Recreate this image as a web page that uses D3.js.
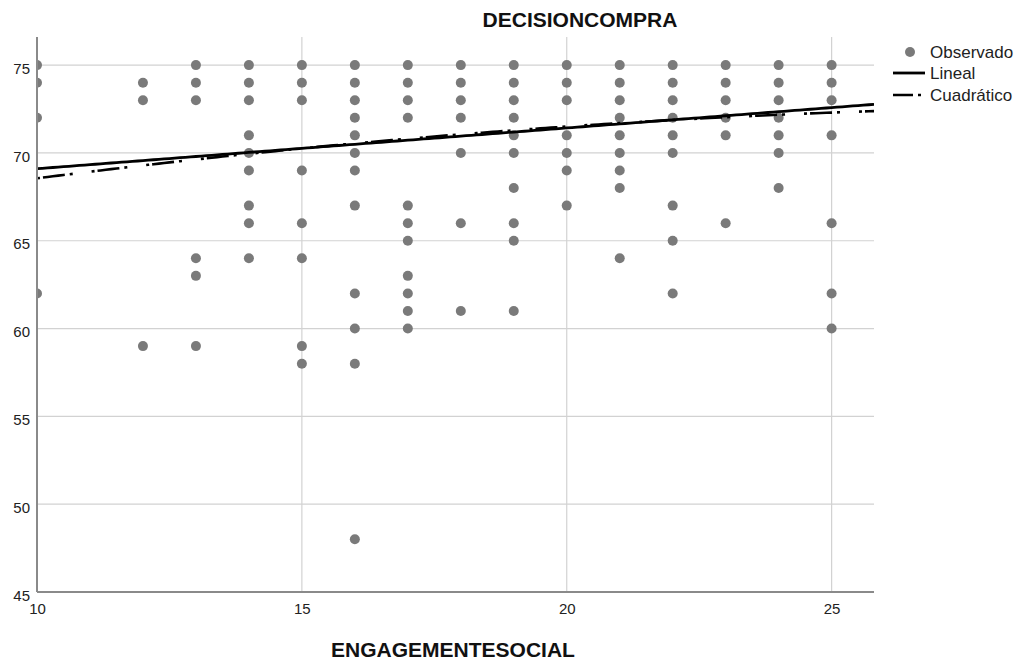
<!DOCTYPE html>
<html>
<head>
<meta charset="utf-8">
<script src="https://cdn.jsdelivr.net/npm/d3@7"></script>
<style>
  html, body { margin: 0; padding: 0; background: #fff; }
  svg { display: block; font-family: "Liberation Sans", Arial, sans-serif; }
</style>
</head>
<body>
<svg id="chart" width="1022" height="663"></svg>
<script>
// ENGAGEMENTESOCIAL values (one column of observations per value)
const engagementLevels = [10, 12, 13, 14, 15, 16, 17, 18, 19, 20, 21, 22, 23, 24, 25];
// DECISIONCOMPRA values observed at each engagement level
const decisionValues = [
  [75, 74, 72, 62],
  [74, 73, 59],
  [75, 74, 73, 64, 63, 59],
  [75, 74, 73, 71, 70, 69, 67, 66, 64],
  [75, 74, 73, 69, 66, 64, 59, 58],
  [75, 74, 73, 72, 71, 70, 69, 67, 62, 60, 58, 48],
  [75, 74, 73, 72, 67, 66, 65, 63, 62, 61, 60],
  [75, 74, 73, 72, 70, 66, 61],
  [75, 74, 73, 72, 71, 70, 68, 66, 65, 61],
  [75, 74, 73, 71, 70, 69, 67],
  [75, 74, 73, 72, 71, 70, 69, 68, 64],
  [75, 74, 73, 72, 71, 70, 67, 65, 62],
  [75, 74, 73, 72, 71, 66],
  [75, 74, 73, 72, 71, 70, 68],
  [75, 74, 73, 71, 66, 62, 60]
];
// Fitted model coefficients: b0 + b1*x (+ b2*x^2)
const linearCoef = [66.78, 0.232];
const quadraticCoef = [63.79, 0.567, -0.00907];

const xTicks = [10, 15, 20, 25];
const yTicks = [45, 50, 55, 60, 65, 70, 75];
const xDomain = [10, 25.8];
const yDomain = [45, 76.6];
const legendLabels = ["Observado", "Lineal", "Cuadrático"];

const svg = d3.select("#chart");
const plot = { left: 37, right: 874, top: 37, bottom: 592 };

const x = d3.scaleLinear().domain(xDomain).range([plot.left, plot.right]);
const y = d3.scaleLinear().domain(yDomain).range([plot.bottom, plot.top]);

svg.append("defs").append("clipPath").attr("id", "plotClip")
  .append("rect")
  .attr("x", plot.left).attr("y", plot.top)
  .attr("width", plot.right - plot.left).attr("height", plot.bottom - plot.top);

// Grid lines
const grid = svg.append("g");
grid.selectAll("line.h").data(yTicks.filter(d => d > yDomain[0]))
  .join("line")
  .attr("x1", plot.left).attr("x2", plot.right)
  .attr("y1", d => y(d)).attr("y2", d => y(d))
  .attr("stroke", "#d2d2d2").attr("stroke-width", 1.2);
grid.selectAll("line.v").data(xTicks.filter(d => d > xDomain[0]))
  .join("line")
  .attr("y1", plot.top).attr("y2", plot.bottom)
  .attr("x1", d => x(d)).attr("x2", d => x(d))
  .attr("stroke", "#d2d2d2").attr("stroke-width", 1.2);

// Observed points
const points = engagementLevels.flatMap((ex, i) => decisionValues[i].map(v => [ex, v]));
svg.append("g").attr("clip-path", "url(#plotClip)")
  .selectAll("circle").data(points).join("circle")
  .attr("cx", d => x(d[0])).attr("cy", d => y(d[1]))
  .attr("r", 5).attr("fill", "#7a7a7a");

// Fitted curves
const xs = d3.range(xDomain[0], xDomain[1] + 0.001, 0.1);
const linFit = v => linearCoef[0] + linearCoef[1] * v;
const quadFit = v => quadraticCoef[0] + quadraticCoef[1] * v + quadraticCoef[2] * v * v;
const curve = f => d3.line().x(d => x(d)).y(d => y(f(d)))(xs);

const fits = svg.append("g").attr("clip-path", "url(#plotClip)");
fits.append("path").attr("d", curve(quadFit))
  .attr("fill", "none").attr("stroke", "#000").attr("stroke-width", 2.6)
  .attr("stroke-dasharray", "3,3,22,5,3,19");
fits.append("path").attr("d", curve(linFit))
  .attr("fill", "none").attr("stroke", "#000").attr("stroke-width", 2.8);

// Axes
const axisColor = "#8a8a8a";
svg.append("line")
  .attr("x1", plot.left).attr("x2", plot.left)
  .attr("y1", plot.top).attr("y2", plot.bottom)
  .attr("stroke", axisColor).attr("stroke-width", 2);
svg.append("line")
  .attr("x1", plot.left).attr("x2", plot.right)
  .attr("y1", plot.bottom).attr("y2", plot.bottom)
  .attr("stroke", axisColor).attr("stroke-width", 2);

const xAxis = d3.axisBottom(x).tickValues(xTicks).tickSize(0).tickPadding(0).tickFormat(d3.format("d"));
const gx = svg.append("g").attr("transform", `translate(0,${plot.bottom})`).call(xAxis);
gx.select(".domain").remove();
gx.selectAll("text").attr("y", 22).attr("dy", null)
  .attr("font-size", 15).attr("fill", "#222")
  .attr("font-family", "Liberation Sans, Arial, sans-serif");

const yAxis = d3.axisLeft(y).tickValues(yTicks).tickSize(0).tickPadding(0).tickFormat(d3.format("d"));
const gy = svg.append("g").attr("transform", `translate(${plot.left},0)`).call(yAxis);
gy.select(".domain").remove();
gy.selectAll("text").attr("x", -7).attr("dy", "0.55em")
  .attr("font-size", 15).attr("fill", "#222")
  .attr("font-family", "Liberation Sans, Arial, sans-serif");

// Titles
svg.append("text").attr("x", 580).attr("y", 27)
  .attr("text-anchor", "middle").attr("font-size", 21).attr("font-weight", "bold")
  .attr("fill", "#111").text("DECISIONCOMPRA");
svg.append("text").attr("x", 453).attr("y", 657)
  .attr("text-anchor", "middle").attr("font-size", 21).attr("font-weight", "bold")
  .attr("fill", "#111").text("ENGAGEMENTESOCIAL");

// Legend
const legend = svg.append("g");
const rowY = [52, 73, 95];
legend.append("circle").attr("cx", 910).attr("cy", rowY[0]).attr("r", 5).attr("fill", "#7a7a7a");
legend.append("line").attr("x1", 893).attr("x2", 925).attr("y1", rowY[1]).attr("y2", rowY[1])
  .attr("stroke", "#000").attr("stroke-width", 2.8);
legend.append("line").attr("x1", 893).attr("x2", 922).attr("y1", rowY[2]).attr("y2", rowY[2])
  .attr("stroke", "#000").attr("stroke-width", 2.6).attr("stroke-dasharray", "20,5,3,20");
legend.selectAll("text").data(legendLabels).join("text")
  .attr("x", 930).attr("y", (d, i) => rowY[i])
  .attr("dy", "0.36em").attr("font-size", 17).attr("fill", "#222")
  .text(d => d);
</script>
</body>
</html>
